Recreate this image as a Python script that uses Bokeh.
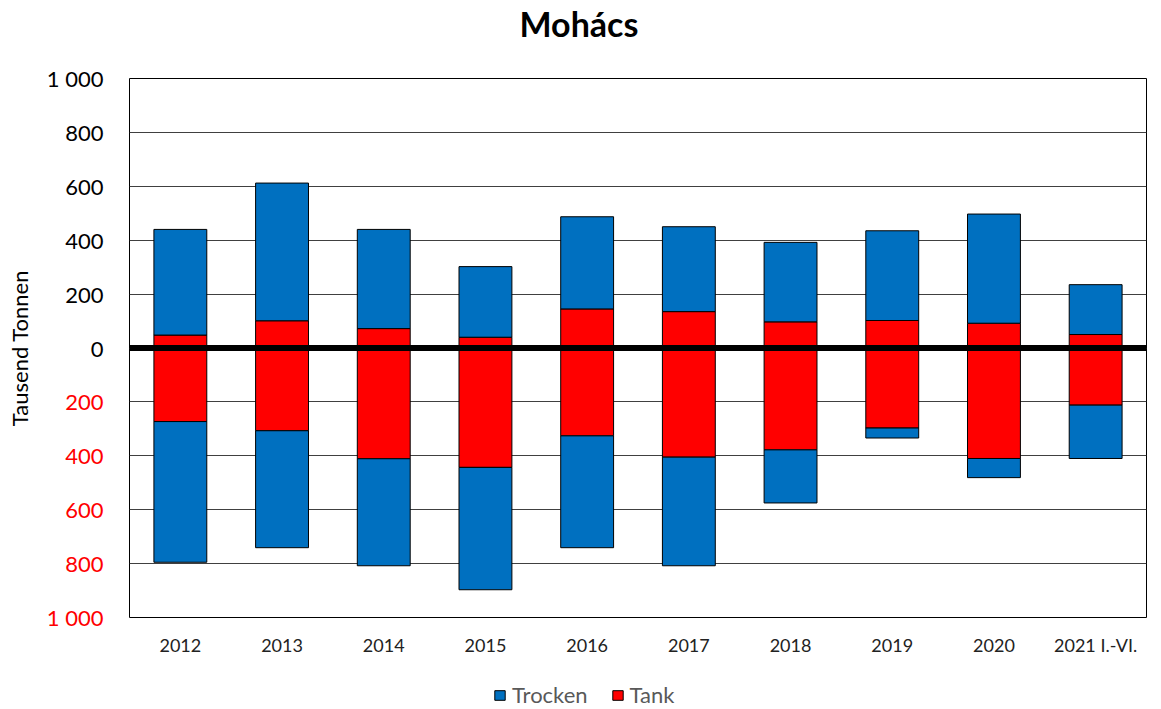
from bokeh.plotting import figure
from bokeh.layouts import column
from bokeh.models import (ColumnDataSource, FactorRange, Range1d, FixedTicker, Span,
                          Legend, LegendItem, LinearAxis)
from bokeh.embed import file_html
from bokeh.resources import INLINE

# ---- data (thousand tonnes) ----
years = ["2012", "2013", "2014", "2015", "2016", "2017", "2018", "2019", "2020", "2021 I.-VI."]
# upper half (positive)
tank_up = [48, 101, 72, 40, 145, 135, 97, 102, 92, 50]
trocken_up = [392, 511, 368, 262, 342, 315, 295, 333, 405, 185]
# lower half (shown downward)
tank_down = [273, 307, 411, 443, 326, 405, 378, 297, 410, 212]
trocken_down = [522, 434, 397, 454, 415, 403, 197, 37, 71, 198]

pos_ticks = [0, 200, 400, 600, 800, 1000]
pos_labels = ["0", "200", "400", "600", "800", "1 000"]
neg_ticks = [-200, -400, -600, -800, -1000]
neg_labels = ["200", "400", "600", "800", "1 000"]

title_text = "Mohács"
y_title = "Tausend Tonnen"
series_names = ["Trocken", "Tank"]

BLUE = "#0070C0"
RED = "#FF0000"
FONT = "Lato"
LABEL_W = 60  # rendered width of "1 000" at 22px
W = 1152


def blank_strip(height):
    f = figure(width=W, height=height, x_range=Range1d(0, 1), y_range=Range1d(0, 1),
               output_backend="svg", toolbar_location=None,
               x_axis_location=None, y_axis_location=None,
               min_border_left=0, min_border_right=0, min_border_top=0, min_border_bottom=0)
    f.outline_line_color = None
    f.xgrid.grid_line_color = None
    f.ygrid.grid_line_color = None
    f.background_fill_color = "white"
    f.border_fill_color = "white"
    return f


# ---- title strip ----
tf = blank_strip(63)
tf.title.text = title_text
tf.title.text_font = FONT
tf.title.text_font_size = "34px"
tf.title.text_font_style = "bold"
tf.title.text_color = "black"
tf.title.align = "left"
tf.title.offset = 390
tf.title.vertical_align = "top"
tf.title.standoff = 4

# ---- main chart ----
src = ColumnDataSource(dict(
    year=years,
    tank_up=tank_up,
    trocken_up=trocken_up,
    tank_dn=[-v for v in tank_down],
    trocken_dn=[-v for v in trocken_down],
))

p = figure(width=W, height=597, x_range=FactorRange(factors=years),
           y_range=Range1d(-1000, 1000), output_backend="svg", toolbar_location=None,
           title=None,
           min_border_left=129, min_border_right=6, min_border_top=15, min_border_bottom=43)

up = p.vbar_stack(["tank_up", "trocken_up"], x="year", width=0.52, source=src,
                  fill_color=[RED, BLUE], line_color="black", line_width=1)
dn = p.vbar_stack(["tank_dn", "trocken_dn"], x="year", width=0.52, source=src,
                  fill_color=[RED, BLUE], line_color="black", line_width=1)

p.add_layout(Span(location=0, dimension="width", line_color="black", line_width=6))

p.xgrid.grid_line_color = None
p.ygrid.ticker = FixedTicker(ticks=neg_ticks + pos_ticks)
p.ygrid.grid_line_color = "#404040"
p.ygrid.grid_line_width = 1
p.outline_line_color = "black"
p.outline_line_width = 1


def style_y(ax, color, standoff):
    ax.axis_line_color = None
    ax.major_tick_line_color = None
    ax.minor_tick_line_color = None
    ax.major_tick_out = 0
    ax.major_tick_in = 0
    ax.major_label_standoff = standoff
    ax.major_label_text_font = FONT
    ax.major_label_text_font_size = "22px"
    ax.major_label_text_color = color


# inner axis: upper half labels (black)
ya = p.yaxis[0]
ya.ticker = FixedTicker(ticks=pos_ticks)
ya.major_label_overrides = dict(zip(pos_ticks, pos_labels))
style_y(ya, "black", 26)

# outer axis: lower half labels (red), pulled into the same column
yb = LinearAxis(ticker=FixedTicker(ticks=neg_ticks),
                major_label_overrides=dict(zip(neg_ticks, neg_labels)))
style_y(yb, "red", -LABEL_W)
yb.axis_label = y_title
yb.axis_label_text_font = FONT
yb.axis_label_text_font_size = "22px"
yb.axis_label_text_font_style = "normal"
yb.axis_label_text_color = "black"
yb.axis_label_standoff = 11
p.add_layout(yb, "left")

p.xaxis.axis_line_color = None
p.xaxis.major_tick_line_color = None
p.xaxis.major_tick_out = 0
p.xaxis.major_tick_in = 0
p.xaxis.major_label_standoff = 16
p.xaxis.major_label_text_font = FONT
p.xaxis.major_label_text_font_size = "18px"
p.xaxis.major_label_text_color = "#222222"

p.background_fill_color = "white"
p.border_fill_color = "white"

# ---- legend strip below the chart ----
lg = blank_strip(48)
# legend swatches (kept outside the strip's visible range)
r_tro = lg.vbar(x=[-1], top=[-1], width=0.1, fill_color=BLUE, line_color="black", line_width=1)
r_tank = lg.vbar(x=[-1], top=[-1], width=0.1, fill_color=RED, line_color="black", line_width=1)

legend = Legend(items=[LegendItem(label=series_names[0], renderers=[r_tro]),
                       LegendItem(label=series_names[1], renderers=[r_tank])],
                orientation="horizontal", location=(364, 0),
                glyph_width=13, glyph_height=12, label_standoff=6, spacing=23,
                padding=0, margin=0, border_line_color=None, background_fill_alpha=0,
                label_text_font=FONT, label_text_font_size="22px",
                label_text_color="#595959")
lg.add_layout(legend, "center")

layout = column(tf, p, lg, spacing=0)
open("out.html", "w").write(file_html(layout, INLINE))
